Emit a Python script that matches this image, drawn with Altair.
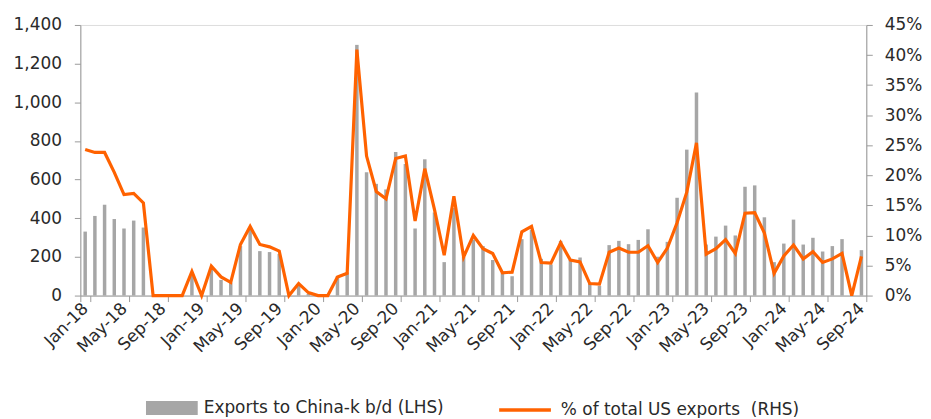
import altair as alt
import pandas as pd

MONTH_ABBR = ["Jan", "Feb", "Mar", "Apr", "May", "Jun", "Jul", "Aug", "Sep", "Oct", "Nov", "Dec"]
YEARS = ["18", "19", "20", "21", "22", "23", "24"]
months = [f"{m}-{y}" for y in YEARS for m in MONTH_ABBR][:81]  # Jan-18 .. Sep-24

# Exports to China, k b/d (LHS)
exports = [
    331, 412, 470, 396, 347, 388, 352, 0, 0, 0, 0, 101,
    0, 136, 81, 67, 256, 350, 230, 225, 215, 0, 50, 8,
    3, 0, 101, 120, 1297, 638, 578, 549, 743, 681, 347, 705,
    430, 173, 453, 200, 290, 256, 184, 118, 100, 292, 341, 190,
    161, 283, 184, 197, 67, 50, 261, 283, 266, 288, 343, 201,
    278, 506, 755, 1050, 264, 305, 362, 311, 563, 570, 405, 173,
    269, 393, 264, 299, 228, 256, 292, 0, 235,
]

# % of total US exports (RHS)
share = [
    24.3, 23.8, 23.8, 20.5, 16.8, 17.0, 15.4, 0, 0, 0, 0, 4.0,
    0, 4.9, 3.1, 2.2, 8.5, 11.5, 8.5, 8.1, 7.4, 0, 2.0, 0.5,
    0, 0, 3.1, 3.7, 40.9, 23.2, 17.3, 16.1, 22.8, 23.2, 12.4, 21.1,
    14.3, 6.7, 16.5, 6.4, 10.0, 7.8, 7.0, 3.8, 3.9, 10.6, 11.5, 5.5,
    5.4, 8.8, 5.9, 5.6, 2.0, 1.9, 7.2, 7.9, 7.2, 7.2, 8.3, 5.5,
    7.9, 12.1, 17.2, 25.4, 6.9, 7.8, 9.3, 7.0, 13.7, 13.8, 10.4, 3.7,
    6.6, 8.4, 6.1, 7.3, 5.5, 6.1, 7.0, 0, 6.5,
]

left_ticks = [0, 200, 400, 600, 800, 1000, 1200, 1400]
right_ticks = [0, 5, 10, 15, 20, 25, 30, 35, 40, 45]
x_label_values = months[::4]

BAR_NAME = "Exports to China-k b/d (LHS)"
LINE_NAME = "% of total US exports\u00a0 (RHS)"
GREY = "#A6A6A6"
ORANGE = "#FF6200"
AXIS_GREY = "#9A9A9A"
TEXT = "#2a2a2a"
FONT = "DejaVu Sans"
FS = 17

df = pd.DataFrame({
    "month": months,
    "exports": exports,
    "share": share,
    "bar_series": [BAR_NAME] * len(months),
    "line_series": [LINE_NAME] * len(months),
})

x_enc = alt.X(
    "month:O",
    sort=months,
    scale=alt.Scale(paddingInner=0, paddingOuter=0),
    axis=alt.Axis(
        values=x_label_values,
        labelAngle=-45,
        labelAlign="right",
        labelBaseline="middle",
        tickBand="extent",
        tickSize=6,
        labelPadding=4,
        title=None,
        grid=False,
        domainColor=AXIS_GREY,
        tickColor=AXIS_GREY,
        labelFontSize=FS,
        labelColor=TEXT,
        labelFont=FONT,
    ),
)

bars = alt.Chart(df).mark_bar(size=3.5).encode(
    x=x_enc,
    y=alt.Y(
        "exports:Q",
        scale=alt.Scale(domain=[0, 1400], nice=False),
        axis=alt.Axis(
            values=left_ticks,
            format=",.0f",
            title=None,
            grid=False,
            tickSize=6,
            labelPadding=13,
            domainColor=AXIS_GREY,
            tickColor=AXIS_GREY,
            labelFontSize=FS,
            labelColor=TEXT,
            labelFont=FONT,
        ),
    ),
    fill=alt.Fill(
        "bar_series:N",
        scale=alt.Scale(domain=[BAR_NAME], range=[GREY]),
        legend=alt.Legend(
            title=None,
            orient="none",
            legendX=66,
            legendY=359,
            padding=0,
            symbolType="M-1,-0.27L1,-0.27L1,0.27L-1,0.27Z",
            symbolSize=2704,
            symbolStrokeWidth=0,
            labelOffset=6,
            labelLimit=0,
            labelFontSize=FS,
            labelColor=TEXT,
            labelFont=FONT,
        ),
    ),
)

line = alt.Chart(df).mark_line(strokeWidth=3.2, strokeJoin="miter").encode(
    x=x_enc,
    y=alt.Y(
        "share:Q",
        scale=alt.Scale(domain=[0, 45], nice=False),
        axis=alt.Axis(
            orient="right",
            values=right_ticks,
            labelExpr="datum.value + '%'",
            title=None,
            grid=False,
            tickSize=6,
            labelPadding=12,
            domainColor=AXIS_GREY,
            tickColor=AXIS_GREY,
            labelFontSize=FS,
            labelColor=TEXT,
            labelFont=FONT,
        ),
    ),
    stroke=alt.Stroke(
        "line_series:N",
        scale=alt.Scale(domain=[LINE_NAME], range=[ORANGE]),
        legend=alt.Legend(
            title=None,
            orient="none",
            legendX=419,
            legendY=359,
            padding=0,
            symbolType="stroke",
            symbolSize=2704,
            symbolStrokeWidth=3.5,
            labelOffset=8,
            labelLimit=0,
            labelFontSize=FS,
            labelColor=TEXT,
            labelFont=FONT,
        ),
    ),
)

chart = (
    alt.layer(bars, line)
    .resolve_scale(y="independent", fill="independent", stroke="independent")
    .properties(
        width=790,
        height=272,
        autosize=alt.AutoSizeParams(type="none"),
        padding={"left": 72.7, "top": 16, "right": 57, "bottom": 122},
    )
    .configure_view(stroke=None)
    .configure(background="white")
)

chart.save("out.html", embed_options={"renderer": "svg", "actions": False})
